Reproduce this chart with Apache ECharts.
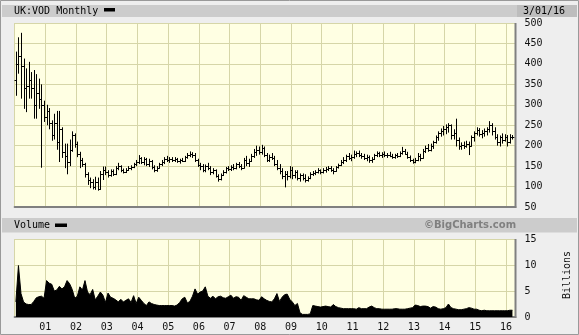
<!DOCTYPE html>
<html>
<head>
<meta charset="utf-8">
<script src="https://cdn.jsdelivr.net/npm/echarts@6/dist/echarts.min.js"></script>
<style>
html,body{margin:0;padding:0;background:#eeeeee;}
#chart{width:579px;height:335px;}
</style>
</head>
<body>
<div id="chart"></div>
<script>
// Monthly bars, Jan 2000 .. Mar 2016 (month index 0..194)
const priceOpen = [
360,400,420,395,340,345,360,340,300,330,315,300,
270,285,255,225,255,210,240,185,175,160,190,225,
205,180,165,155,130,115,110,100,110,95,130,140,
135,128,138,130,145,150,140,136,140,145,148,155,
160,170,160,168,155,162,148,140,146,155,160,168,
165,168,165,168,162,165,163,172,178,180,176,165,
152,150,140,150,145,135,140,125,118,128,135,145,
142,148,145,155,150,145,165,158,162,175,185,190,
185,195,178,165,172,170,155,145,138,125,130,125,
140,128,135,120,128,120,115,122,130,134,136,140,
135,140,142,146,140,138,148,152,160,165,175,170,
172,180,182,178,175,170,172,165,168,176,182,178,
180,176,178,175,172,176,174,182,188,180,172,165,
160,166,175,170,188,195,190,200,208,220,230,236,
240,245,250,225,232,215,198,202,200,205,200,220,
230,238,228,232,235,240,250,235,220,210,220,215,
222,210,222];
const priceHigh = [
430,465,476,413,389,405,380,385,375,364,350,310,
300,292,262,278,285,285,245,205,205,215,235,230,
210,185,170,158,135,122,118,124,122,138,149,149,
140,142,142,150,158,152,144,145,150,152,158,165,
177,172,172,170,168,165,152,150,158,165,172,175,
172,172,172,170,168,170,175,182,186,184,182,168,
158,155,154,158,150,145,142,130,132,140,148,150,
152,155,158,160,155,170,175,168,180,192,200,198,
202,198,182,178,182,175,165,155,145,138,138,150,
148,140,140,132,132,130,125,135,138,140,145,142,
145,148,150,150,145,150,156,165,172,178,182,178,
188,186,188,182,180,178,176,172,180,186,185,184,
186,182,185,180,180,182,186,197,192,185,176,168,
170,182,180,192,200,204,205,212,225,235,242,248,
252,255,252,240,266,220,208,210,212,210,225,235,
245,243,238,242,245,260,255,245,228,225,230,228,
226,228,226];
const priceLow = [
322,376,315,290,282,315,315,266,266,290,146,258,
250,240,212,215,190,160,170,145,130,150,185,195,
172,145,148,122,104,96,93,92,90,92,116,128,
122,124,126,128,140,135,132,133,138,140,145,150,
155,155,152,150,148,142,135,136,144,150,155,160,
158,160,160,158,156,160,160,168,172,170,160,148,
140,135,135,140,128,130,122,112,115,126,132,138,
138,140,142,145,140,144,150,148,160,170,175,178,
178,172,160,160,165,150,140,130,118,98,115,120,
118,120,115,112,115,110,112,118,126,128,132,130,
132,134,138,136,130,136,144,150,155,160,165,162,
168,172,172,168,165,162,158,158,165,172,172,170,
172,170,172,168,168,170,172,178,178,168,160,156,
157,162,162,168,182,185,186,192,205,212,222,225,
228,232,215,215,198,190,190,192,195,177,198,210,
225,222,218,222,225,232,225,215,200,198,205,210,
198,205,215];
const priceClose = [
400,420,395,340,345,360,340,300,330,315,300,270,
285,255,225,255,210,240,185,175,160,190,225,205,
180,165,155,130,115,110,100,110,95,130,140,135,
128,138,130,145,150,140,136,140,145,148,155,160,
170,160,168,155,162,148,140,146,155,160,168,165,
168,165,168,162,165,163,172,178,180,176,165,152,
150,140,150,145,135,140,125,118,128,135,145,142,
148,145,155,150,145,165,158,162,175,185,190,185,
195,178,165,172,170,155,145,138,125,130,125,140,
128,135,120,128,120,115,122,130,134,136,140,135,
140,142,146,140,138,148,152,160,165,175,170,172,
180,182,178,175,170,172,165,168,176,182,178,180,
176,178,175,172,176,174,182,188,180,172,165,160,
166,175,170,188,195,190,200,208,220,230,236,240,
245,250,225,232,215,198,202,200,205,200,220,230,
238,228,232,235,240,250,235,220,210,220,215,222,
210,222,220];
// Volume, billions of shares per month
const volume = [
2.9,9.9,4.5,2.9,2.5,2.4,2.4,3.0,3.7,3.9,4.0,3.6,
7.0,6.5,6.3,5.0,5.2,5.9,5.4,5.8,7.0,6.4,5.3,3.6,
4.0,5.8,5.2,7.0,4.8,4.3,5.3,3.3,4.0,4.8,4.2,2.8,
4.6,3.8,3.6,3.3,2.9,3.4,2.9,3.2,3.5,2.8,4.1,2.6,
3.8,3.2,2.6,2.2,2.9,2.6,2.4,2.3,2.2,2.2,2.2,2.2,
2.2,2.2,2.1,2.3,2.8,3.5,3.8,2.7,3.0,4.0,5.4,4.4,
4.8,5.0,5.8,4.0,3.6,4.0,3.5,3.9,4.0,3.7,3.6,3.9,
4.2,3.6,3.9,3.8,3.2,4.1,3.8,3.5,3.5,3.5,3.3,3.2,
3.9,3.5,3.2,3.0,2.9,3.5,4.5,3.0,3.8,4.3,4.4,3.4,
2.9,2.2,2.6,0.8,0.5,0.5,0.5,0.6,2.2,2.1,2.0,1.9,
2.0,2.1,2.0,1.9,2.4,2.0,1.8,1.7,1.6,1.6,1.6,1.6,
1.6,1.5,1.8,1.6,1.6,1.6,1.9,2.1,1.8,1.6,1.6,1.5,
1.5,1.5,1.5,1.5,1.6,1.6,1.5,1.5,1.5,1.6,1.7,1.8,
2.3,2.2,2.0,2.1,2.1,2.0,1.7,2.0,1.9,1.6,1.5,1.6,
1.8,2.5,1.8,1.6,1.5,1.4,1.4,1.5,1.6,1.8,1.7,1.5,
1.5,1.3,1.2,1.3,1.2,1.2,1.2,1.2,1.2,1.2,1.2,1.2,
1.2,1.3,1.3];
const yearLabels = ['01','02','03','04','05','06','07','08','09','10','11','12','13','14','15','16'];
const priceTicks = [50,100,150,200,250,300,350,400,450,500];
const volumeTicks = [0,5,10,15];
const titleText = 'UK:VOD Monthly';
const dateText = '3/01/16';
const volumeTitle = 'Volume';
const creditText = '\u00A9BigCharts.com';
const unitText = 'Billions';

const ohlc = priceClose.map((c, i) => [i + 0.5, priceOpen[i], priceHigh[i], priceLow[i], c]);
const vol = volume.map((v, i) => [i + 0.5, v]);

const FONT = 'DejaVu Sans Mono';
const GRIDC = '#d6d6a8';
const PLOTBG = '#ffffe3';
const EDGE = '#808080';
const xMax = 195.7;

const chart = echarts.init(document.getElementById('chart'), null, {renderer: 'canvas'});

function xLabel(v) {
  if (v > 0 && Math.abs(v % 12) < 1e-6) {
    const k = Math.round(v / 12) - 1;
    return yearLabels[k] || '';
  }
  return '';
}

chart.setOption({
  animation: false,
  backgroundColor: '#eeeeee',
  grid: [
    {left: 14.6, right: 63.5, top: 23, height: 184, show: true, backgroundColor: PLOTBG, borderWidth: 0},
    {left: 14.6, right: 63.5, top: 239, height: 78, show: true, backgroundColor: PLOTBG, borderWidth: 0}
  ],
  xAxis: [
    {type: 'value', gridIndex: 0, min: 0, max: xMax, interval: 12,
     axisLine: {show: true, onZero: false, lineStyle: {color: EDGE, width: 2}},
     axisTick: {show: false}, axisLabel: {show: false},
     splitLine: {show: true, showMaxLine: false, lineStyle: {color: GRIDC, width: 1}}},
    {type: 'value', gridIndex: 1, min: 0, max: xMax, interval: 12,
     axisLine: {show: true, onZero: false, lineStyle: {color: EDGE, width: 2}},
     axisTick: {show: false},
     axisLabel: {show: true, formatter: xLabel, fontFamily: FONT, fontSize: 10, color: '#111', margin: 5, showMinLabel: false, showMaxLabel: false},
     splitLine: {show: true, showMaxLine: false, lineStyle: {color: GRIDC, width: 1}}}
  ],
  yAxis: [
    {type: 'value', gridIndex: 0, position: 'right', min: priceTicks[0], max: priceTicks[priceTicks.length - 1], interval: 50,
     axisLine: {show: false},
     axisTick: {show: false},
     axisLabel: {fontFamily: FONT, fontSize: 10, color: '#111', margin: 9},
     splitLine: {show: true, showMinLine: false, lineStyle: {color: GRIDC, width: 1}}},
    {type: 'value', gridIndex: 1, position: 'right', min: volumeTicks[0], max: volumeTicks[volumeTicks.length - 1], interval: 5,
     axisLine: {show: false},
     axisTick: {show: false},
     axisLabel: {fontFamily: FONT, fontSize: 10, color: '#111', margin: 9},
     splitLine: {show: true, showMinLine: false, lineStyle: {color: GRIDC, width: 1}}}
  ],
  series: [
    {type: 'custom', xAxisIndex: 0, yAxisIndex: 0, data: ohlc,
     encode: {x: 0, y: [1, 2, 3, 4]},
     renderItem: function (params, api) {
       const x = api.value(0);
       const pH = api.coord([x, api.value(2)]);
       const pL = api.coord([x, api.value(3)]);
       const pO = api.coord([x, api.value(1)]);
       const pC = api.coord([x, api.value(4)]);
       const cx = Math.round(pH[0]) + 0.5;
       const st = {stroke: '#000', lineWidth: 1};
       return {type: 'group', children: [
         {type: 'line', shape: {x1: cx, y1: pH[1], x2: cx, y2: pL[1]}, style: st},
         {type: 'line', shape: {x1: cx - 2, y1: Math.round(pO[1]) + 0.5, x2: cx, y2: Math.round(pO[1]) + 0.5}, style: st},
         {type: 'line', shape: {x1: cx, y1: Math.round(pC[1]) + 0.5, x2: cx + 2, y2: Math.round(pC[1]) + 0.5}, style: st}
       ]};
     }},
    {type: 'line', xAxisIndex: 1, yAxisIndex: 1, data: vol, showSymbol: false, symbol: 'none',
     lineStyle: {color: '#000', width: 1}, areaStyle: {color: '#000', opacity: 1}}
  ],
  graphic: [
    {type: 'rect', shape: {x: 0.5, y: 0.5, width: 578, height: 334}, style: {fill: 'none', stroke: '#999', lineWidth: 1}, silent: true},
    {type: 'rect', shape: {x: 2, y: 5, width: 575, height: 12}, style: {fill: '#cccccc'}, silent: true},
    {type: 'rect', shape: {x: 517, y: 5, width: 60, height: 12}, style: {fill: '#bdbdbd'}, silent: true},
    {type: 'text', x: 14, y: 11, style: {text: titleText, font: '10px "' + FONT + '"', fill: '#000', textVerticalAlign: 'middle'}},
    {type: 'rect', shape: {x: 104, y: 8, width: 11, height: 3.5}, style: {fill: '#000'}},
    {type: 'text', x: 544, y: 11, style: {text: dateText, font: '10px "' + FONT + '"', fill: '#000', textAlign: 'center', textVerticalAlign: 'middle'}},
    {type: 'rect', shape: {x: 2, y: 218, width: 575, height: 14.5}, style: {fill: '#cccccc'}, silent: true},
    {type: 'text', x: 14, y: 225.5, style: {text: volumeTitle, font: '10px "' + FONT + '"', fill: '#000', textVerticalAlign: 'middle'}},
    {type: 'rect', shape: {x: 55, y: 223.5, width: 12, height: 3.5}, style: {fill: '#000'}},
    {type: 'text', x: 470, y: 225.5, style: {text: creditText, font: 'bold 10px "DejaVu Sans"', fill: '#808080', textAlign: 'center', textVerticalAlign: 'middle'}},
    {type: 'text', x: 567, y: 275, rotation: Math.PI / 2, style: {text: unitText, font: '10px "' + FONT + '"', fill: '#111', textAlign: 'center', textVerticalAlign: 'middle'}},
    {type: 'line', shape: {x1: 515.5, y1: 23, x2: 515.5, y2: 208}, style: {stroke: EDGE, lineWidth: 2}, silent: true, z: 10},
    {type: 'line', shape: {x1: 515.5, y1: 239, x2: 515.5, y2: 318}, style: {stroke: EDGE, lineWidth: 2}, silent: true, z: 10}
  ]
});
</script>
</body>
</html>
